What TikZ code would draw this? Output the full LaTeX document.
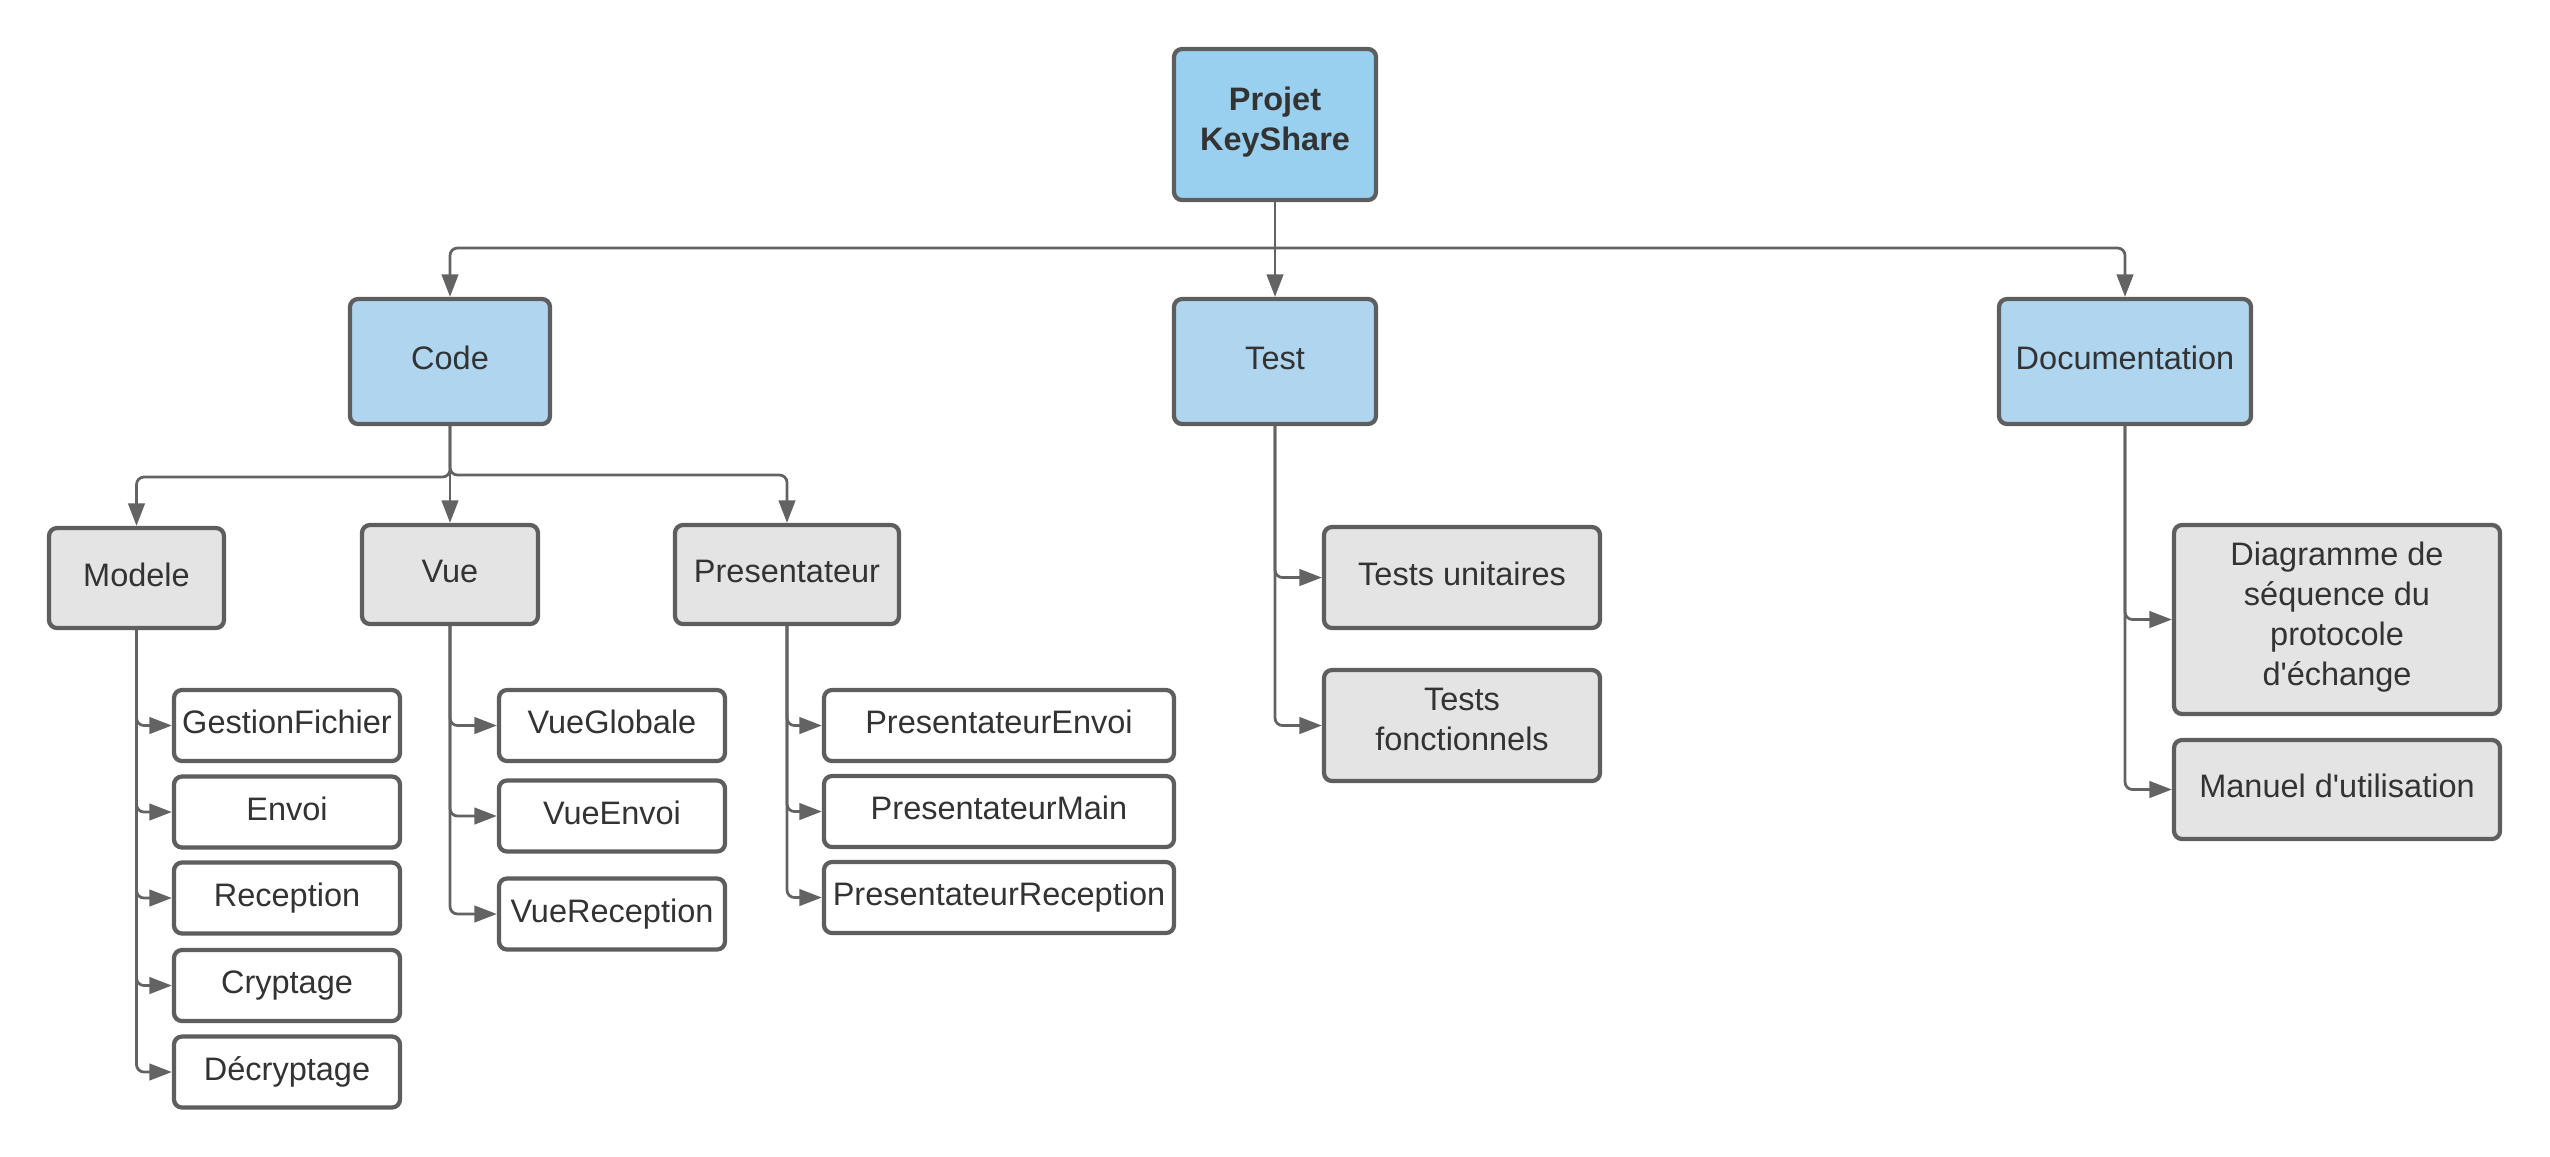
\documentclass[tikz,border=0pt]{standalone}
\usepackage{fontspec}
\setmainfont{Liberation Sans}
\usetikzlibrary{arrows.meta}
\definecolor{bordc}{HTML}{5E5E5E}
\definecolor{linec}{HTML}{636363}
\definecolor{topblue}{HTML}{99D0F0}
\definecolor{midblue}{HTML}{B0D5EE}
\definecolor{boxgray}{HTML}{E4E4E4}
\definecolor{txtc}{HTML}{333333}
\begin{document}
\begin{tikzpicture}[x=0.4pt,y=-0.4pt,
  box/.style={draw=bordc, line width=1.7pt, rounded corners=3.2pt, inner sep=0pt,
    align=center, text=txtc, font=\fontsize{13}{16}\selectfont,
    execute at begin node=\strut, execute at end node=\strut},
  topbox/.style={box, fill=topblue, minimum width=80.8pt, minimum height=60.4pt,
    font=\fontsize{13}{16}\selectfont\bfseries},
  midbox/.style={box, fill=midblue, minimum height=50pt},
  graybox/.style={box, fill=boxgray},
  leafbox/.style={box, fill=white, minimum height=28.4pt},
  conn/.style={draw=linec, line width=1.1pt, rounded corners=3pt,
    -{Triangle[length=9pt,width=6.6pt]}}
]
\useasboundingbox (0,0) rectangle (2550,1156);

% top level
\node[topbox] (projet) at (1275,124.5) {Projet\\KeyShare};
\node[midbox, minimum width=80pt] (code) at (450,361.5) {Code};
\node[midbox, minimum width=80.8pt] (test) at (1275,361.5) {Test};
\node[midbox, minimum width=100.8pt] (doc) at (2125,361.5) {Documentation};

% second level
\node[graybox, minimum width=70pt, minimum height=40pt] (modele) at (136.5,578) {Modele};
\node[graybox, minimum width=70.4pt, minimum height=39.6pt] (vue) at (450,574.5) {Vue};
\node[graybox, minimum width=89.6pt, minimum height=39.6pt] (pres) at (787,574.5) {Presentateur};
\node[graybox, minimum width=110.4pt, minimum height=40.4pt] (tu) at (1462,577.5) {Tests unitaires};
\node[graybox, minimum width=110.4pt, minimum height=44.4pt] (tf) at (1462,725.5) {Tests\\fonctionnels};
\node[graybox, minimum width=130.4pt, minimum height=75.6pt] (diag) at (2337,619.5) {Diagramme de\\séquence du\\protocole\\d\textquotesingle échange};
\node[graybox, minimum width=130.4pt, minimum height=39.6pt] (man) at (2337,789.5) {Manuel d\textquotesingle utilisation};

% Modele leaves
\node[leafbox, minimum width=90.4pt] (gf) at (287,725.5) {GestionFichier};
\node[leafbox, minimum width=90.4pt] (env) at (287,812) {Envoi};
\node[leafbox, minimum width=90.4pt] (rec) at (287,898) {Reception};
\node[leafbox, minimum width=90.4pt] (cry) at (287,985.5) {Cryptage};
\node[leafbox, minimum width=90.4pt] (dec) at (287,1072) {Décryptage};

% Vue leaves
\node[leafbox, minimum width=90.4pt] (vg) at (612,725.5) {VueGlobale};
\node[leafbox, minimum width=90.4pt] (ve) at (612,816) {VueEnvoi};
\node[leafbox, minimum width=90.4pt] (vr) at (612,914) {VueReception};

% Presentateur leaves
\node[leafbox, minimum width=140pt] (pe) at (999,725.5) {PresentateurEnvoi};
\node[leafbox, minimum width=140pt] (pm) at (999,811.5) {PresentateurMain};
\node[leafbox, minimum width=140pt] (pr) at (999,897.5) {PresentateurReception};

% top connectors
\coordinate (j1) at (1275,248);
\draw[conn] (projet.south) -- (test.north);
\draw[conn] (j1) -| (code.north);
\draw[conn] (j1) -| (doc.north);

% code connectors
\coordinate (j2) at (450,477);
\coordinate (j3) at (450,475);
\draw[conn] (code.south) -- (j2) -| (modele.north);
\draw[conn] (code.south) -- (j3) -| (pres.north);
\draw[conn] (code.south) -- (vue.north);

% leaf connectors
\foreach \c in {gf,env,rec,cry,dec} \draw[conn] (modele.south) |- (\c.west);
\foreach \c in {vg,ve,vr} \draw[conn] (vue.south) |- (\c.west);
\foreach \c in {pe,pm,pr} \draw[conn] (pres.south) |- (\c.west);
\foreach \c in {tu,tf} \draw[conn] (test.south) |- (\c.west);
\foreach \c in {diag,man} \draw[conn] (doc.south) |- (\c.west);
\end{tikzpicture}
\end{document}
